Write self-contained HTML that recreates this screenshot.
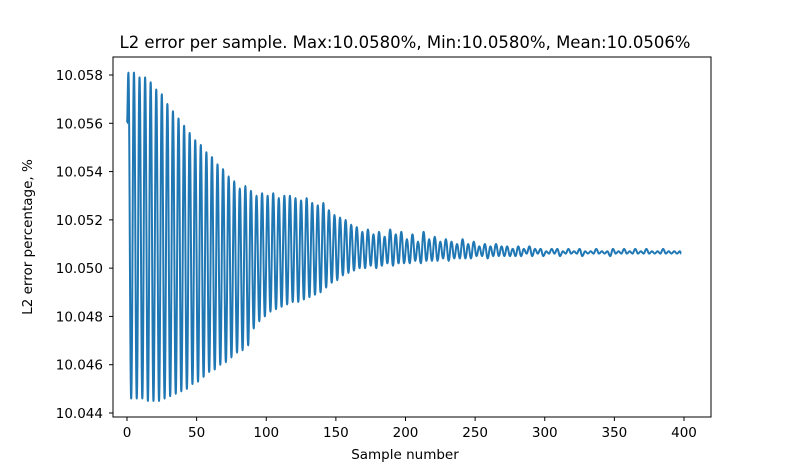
<!DOCTYPE html>
<html><head><meta charset="utf-8"><style>
body{margin:0;background:#fff;font-family:"DejaVu Sans",sans-serif;}
svg text{font-family:"DejaVu Sans",sans-serif;fill:#000;}
</style></head><body>
<svg id="chart" width="790" height="470">
<rect width="790" height="470" fill="#fff"/>
<text x="405" y="48" font-size="16.5" text-anchor="middle">L2 error per sample. Max:10.0580%, Min:10.0580%, Mean:10.0506%</text>
<text x="405" y="459" font-size="13.5" text-anchor="middle">Sample number</text>
<text x="32" y="237" font-size="13.5" text-anchor="middle" transform="rotate(-90 32 237)">L2 error percentage, %</text>
<g id="ticks"></g>
<path id="series" fill="none" stroke="#1f77b4" stroke-width="2"/>
<rect x="113" y="57" width="598" height="360" fill="none" stroke="#000" stroke-width="1"/>
</svg>
<script>
const startValue = 10.056;
const peaks = [10.0581,10.0581,10.0579,10.0579,10.0577,10.0574,10.0572,10.0568,10.0565,10.0562,
10.0559,10.0556,10.0553,10.0551,10.0548,10.0546,10.0543,10.0541,10.0538,10.0536,
10.0533,10.0534,10.0532,10.0530,10.0531,10.0530,10.0531,10.0529,10.0530,10.0530,
10.0529,10.0528,10.0529,10.0527,10.0526,10.0527,10.0524,10.0522,10.0521,10.0520,
10.0518,10.0517,10.0515,10.0516,10.0514,10.0515,10.0513,10.0516,10.0514,10.0515,
10.0512,10.0514,10.0511,10.0515,10.0512,10.0513,10.0511,10.0512,10.0511,10.0510,
10.0512,10.0510,10.0511,10.0509,10.0510,10.0509,10.0510,10.0509,10.0509,10.0508,
10.0509,10.0508,10.0509,10.0508,10.0508,10.0507,10.0508,10.0508,10.0507,10.0508,
10.0507,10.0508,10.0507,10.0507,10.0508,10.0507,10.0507,10.0508,10.0507,10.0508,
10.0507,10.0508,10.0507,10.0508,10.0507,10.0507,10.0508,10.0507,10.0507,10.0507];
const troughs = [10.0446,10.0446,10.0446,10.0445,10.0445,10.0445,10.0446,10.0447,10.0448,10.0449,
10.0450,10.0452,10.0453,10.0455,10.0457,10.0458,10.0460,10.0461,10.0463,10.0465,
10.0466,10.0468,10.0475,10.0478,10.0480,10.0482,10.0483,10.0484,10.0485,10.0486,
10.0486,10.0487,10.0488,10.0489,10.0490,10.0492,10.0494,10.0495,10.0497,10.0498,
10.0499,10.0500,10.0500,10.0501,10.0500,10.0501,10.0502,10.0501,10.0502,10.0502,
10.0502,10.0503,10.0502,10.0503,10.0503,10.0503,10.0504,10.0503,10.0504,10.0504,
10.0504,10.0504,10.0505,10.0505,10.0504,10.0505,10.0505,10.0505,10.0505,10.0505,
10.0505,10.0506,10.0505,10.0506,10.0505,10.0506,10.0506,10.0505,10.0506,10.0506,
10.0506,10.0505,10.0506,10.0506,10.0506,10.0506,10.0505,10.0506,10.0506,10.0506,
10.0506,10.0506,10.0506,10.0506,10.0506,10.0506,10.0506,10.0506,10.0506,10.0506];
const xTicks = [0,50,100,150,200,250,300,350,400];
const yTicks = [10.044,10.046,10.048,10.050,10.052,10.054,10.056,10.058];

const X = s => 127 + s * (684 - 127) / 400;
const Y = v => 413 - (v - 10.044) * (413 - 75) / 0.014;
const NS = "http://www.w3.org/2000/svg";
const tg = document.getElementById('ticks');
xTicks.forEach(t => {
  const l = document.createElementNS(NS, 'line');
  l.setAttribute('x1', X(t)); l.setAttribute('x2', X(t));
  l.setAttribute('y1', 417); l.setAttribute('y2', 421);
  l.setAttribute('stroke', '#000');
  
  
  tg.appendChild(l);
  const tx = document.createElementNS(NS, 'text');
  tx.setAttribute('x', X(t)); tx.setAttribute('y', 437);
  tx.setAttribute('font-size', '13.5'); tx.setAttribute('text-anchor', 'middle');
  tx.textContent = t;
  
  
  tg.appendChild(tx);
});
yTicks.forEach(t => {
  const l = document.createElementNS(NS, 'line');
  l.setAttribute('x1', 109); l.setAttribute('x2', 113);
  l.setAttribute('y1', Y(t)); l.setAttribute('y2', Y(t));
  l.setAttribute('stroke', '#000');
  
  
  tg.appendChild(l);
  const tx = document.createElementNS(NS, 'text');
  tx.setAttribute('x', 103); tx.setAttribute('y', Y(t) + 5);
  tx.setAttribute('font-size', '13.5'); tx.setAttribute('text-anchor', 'end');
  tx.textContent = t.toFixed(3);
  
  
  tg.appendChild(tx);
});
const pts = [[X(0), Y(startValue)]];
for (let k = 0; k < peaks.length; k++) {
  pts.push([X(4 * k + 1), Y(peaks[k])]);
  const ts = Math.min(4 * k + 3, 398);
  pts.push([X(ts), Y(troughs[k])]);
}
let d = 'M' + pts[0][0].toFixed(2) + ',' + pts[0][1].toFixed(2);
for (let i = 1; i < pts.length; i++) {
  const [x0, y0] = pts[i - 1], [x1, y1] = pts[i];
  const mx = (x1 - x0) * 0.4;
  d += ' C' + (x0 + mx).toFixed(2) + ',' + y0.toFixed(2) + ' ' + (x1 - mx).toFixed(2) + ',' + y1.toFixed(2) + ' ' + x1.toFixed(2) + ',' + y1.toFixed(2);
}
document.getElementById('series').setAttribute('d', d);
</script>
</body></html>
